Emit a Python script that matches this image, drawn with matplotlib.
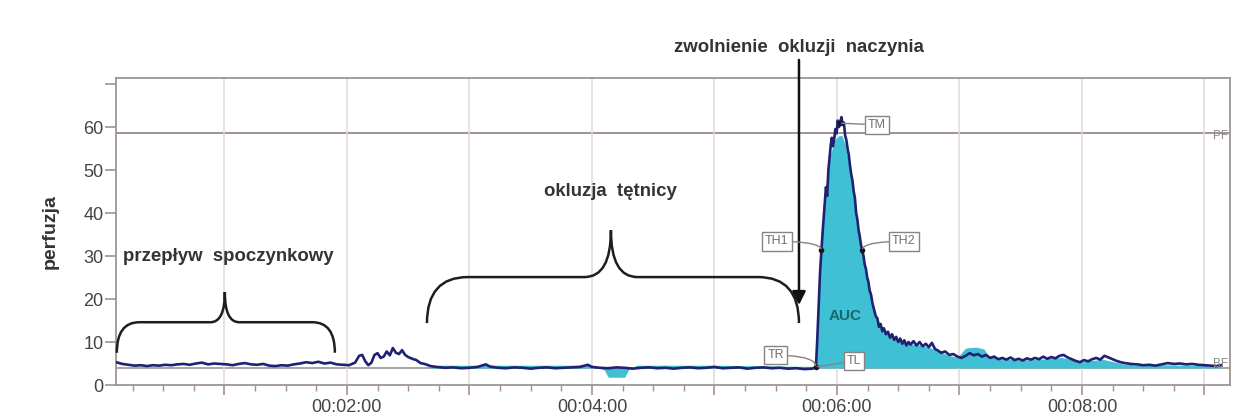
import matplotlib
matplotlib.use('Agg')
import matplotlib.pyplot as plt
from matplotlib.path import Path
from matplotlib.patches import PathPatch
from matplotlib.ticker import MultipleLocator, FuncFormatter

plt.rcParams['font.family'] = ['Liberation Sans', 'DejaVu Sans']

# ---------------- data (time in seconds, perfusion units) ----------------
t_raw = [7, 10, 13, 16, 19, 22, 25, 28, 31, 34, 37, 40, 43, 46, 49, 52, 55, 58, 61, 64,
         67, 70, 73, 76, 79, 82, 85, 88, 91, 94, 97, 100, 103, 106, 109, 112, 115, 118, 121,
         124, 126, 127.5, 129, 130.5, 132, 133.5, 135, 136.5, 138, 139.5, 141, 142.5, 144,
         145.5, 147, 148.5, 150, 152, 154, 156, 158, 161, 164,
         168, 172, 176, 180, 184, 188, 190, 194, 198, 202, 206, 210, 214, 218, 222, 226,
         230, 234, 238, 240, 244, 248, 252, 256, 260, 264, 268, 272, 276, 280, 284, 288,
         292, 296, 300, 304, 308, 312, 316, 320, 324, 328, 332, 336, 340, 344, 348, 349.7,
         350.3, 351, 351.7, 352.4, 353.2, 354, 354.6, 355.2, 355.8, 356.4, 357, 357.5, 358,
         358.6, 359.2, 359.8, 360.4, 361, 361.5, 362.2, 362.8, 363.4, 364, 364.6, 365.2,
         365.8, 366.4, 367, 367.6, 368.2, 368.8, 369.4, 370, 370.6, 371.2, 371.8, 372.4,
         373, 373.6, 374.2, 374.8, 375.4, 376, 376.7, 377.4, 378.2, 379, 379.8, 380.6,
         381.4, 382.2, 383, 384, 385, 386, 387, 388, 389, 390, 391, 392, 393, 394, 395,
         396, 397.5, 399, 400.5, 402, 403.5, 405, 406.5, 408, 409.5, 411, 413, 415, 417,
         419, 421, 423, 425, 427, 429, 431, 433, 435, 437, 439, 441, 443, 445, 447, 449,
         451, 453, 455, 457, 459, 461, 463, 465, 467, 469, 471, 473, 475, 477, 479, 481,
         483, 485, 487, 489, 491, 493, 495, 497, 499, 501, 504, 507, 510, 513, 516, 519,
         522, 525, 528, 531, 534, 537, 540, 543, 546, 548]
v_raw = [5.3, 4.9, 4.7, 4.5, 4.6, 4.4, 4.6, 4.5, 4.7, 4.6, 4.8, 4.9, 4.7, 5.0, 5.2, 4.8,
         5.0, 4.9, 4.8, 4.6, 4.9, 5.1, 4.8, 4.7, 4.9, 4.5, 4.4, 4.6, 4.5, 4.8, 5.0, 5.3,
         5.1, 5.4, 5.0, 5.2, 4.8, 4.7, 4.6,
         5.2, 6.8, 7.0, 5.5, 4.6, 5.2, 7.0, 7.4, 6.3, 6.6, 7.8, 6.9, 8.6, 7.5, 7.2, 8.1,
         7.0, 6.5, 6.1, 5.8, 5.1, 4.9, 4.4, 4.2,
         4.0, 4.1, 3.9, 4.0, 4.2, 4.8, 4.3, 4.0, 3.9, 4.1, 4.0, 3.8, 4.0, 4.1, 3.9, 4.0,
         4.1, 4.2, 4.7, 4.2, 4.0, 3.9, 4.1, 4.0, 3.8, 4.0, 4.1, 3.9, 4.0, 3.8, 4.0, 4.1,
         3.9, 4.0, 4.2, 3.9, 4.0, 4.1, 3.8, 4.0, 4.1, 3.9, 4.0, 3.8, 3.9, 3.7, 3.8, 4.2,
         10, 18, 26, 31.4, 37, 42, 46, 44, 50, 53, 56, 57.5, 55.5,
         57, 59.5, 58.5, 61.5, 60, 60.9, 62.3, 60.5, 61, 58, 57, 55,
         53.5, 51, 49, 47.5, 45, 43.5, 40, 38.5, 36, 34.5, 32.5, 31.4,
         30, 28, 27, 25, 24, 22, 21, 19, 17.5, 16, 15.5, 13.5,
         14.2, 12.5, 13.2, 11.8, 12.4, 11.0, 11.8, 10.5, 11.2, 10.0, 10.8, 9.6, 10.4, 9.2, 10.0,
         9.4, 10.2, 9.2, 10.0, 9.0, 9.6, 8.8, 9.8, 8.4, 8.0, 7.5, 7.8, 7.0, 7.2,
         6.6, 6.3, 6.8, 7.4, 6.9, 7.2, 6.6, 7.0, 6.3, 6.6, 6.0, 6.3, 5.9, 6.4, 5.8, 6.1,
         5.7, 6.2, 5.9, 6.3, 6.0, 6.6, 6.1, 6.5, 6.2, 6.8, 7.0, 6.4, 6.0, 5.6, 5.3, 5.8,
         5.5, 6.0, 6.3, 5.9, 6.8, 6.4, 6.0, 5.6, 5.3, 5.1, 4.9, 4.8, 4.6, 4.7, 4.5, 4.8,
         5.1, 4.9, 5.0, 4.8, 4.9, 4.7, 4.6, 4.5, 4.4, 4.6]

# smoothed signal used for the AUC fill
t_fill = [160, 165, 200, 240, 246, 248, 256, 258, 262, 300, 349.7, 350.5, 351.5, 353, 355,
          357, 359, 361, 362.5, 364, 366, 368, 370, 372, 374, 376, 378, 380, 384, 390,
          396, 402, 408, 414, 419, 421, 423, 428, 432, 434, 440, 450, 460, 470, 480, 490,
          500, 510, 520, 530, 548]
v_fill = [4.0, 4.6, 4.6, 4.6, 3.5, 1.8, 1.8, 3.6, 4.6, 4.6, 4.3, 15, 30, 40, 48,
          54, 57, 58, 58, 56, 51, 44, 37, 31, 26, 21.5, 17.5, 14.5, 12, 10.5,
          9.6, 9.2, 8.3, 7.0, 6.4, 7.5, 8.6, 8.8, 8.4, 6.8, 6.1, 5.8, 6.0, 6.4, 5.4, 6.0,
          4.9, 4.5, 4.7, 4.6, 4.4]

PF = 58.6   # peak flow level
BF = 3.95   # baseline flow level

# characteristic points
pt_labels = ['TR', 'TH1', 'TH2', 'TM', 'TL']
pt_t = [349.7, 352.4, 372.4, 361.5, 349.7]
pt_v = [4.2, 31.4, 31.4, 60.9, 4.2]

# ---------------- styling ----------------
navy = '#1f2273'
cyan = '#3fc0d4'
frame = '#9f9490'
grid_c = '#e0d9d6'
txt = '#333333'

fig = plt.figure(figsize=(12.46, 4.16), dpi=100)
fig.patch.set_facecolor('white')
ax = fig.add_axes([116 / 1246, 31 / 416, 1114 / 1246, 307 / 416])
ax.set_xlim(6.9, 552.5)
ax.set_ylim(0, 71.4)

for s in ax.spines.values():
    s.set_color(frame)
    s.set_linewidth(1.3)

ax.xaxis.set_major_locator(MultipleLocator(60))
ax.xaxis.set_minor_locator(MultipleLocator(15))
ax.xaxis.set_major_formatter(FuncFormatter(
    lambda x, p: f"00:{int(round(x)) // 60:02d}:00" if int(round(x)) % 120 == 0 else ''))
ax.yaxis.set_major_locator(MultipleLocator(10))
ax.yaxis.set_major_formatter(FuncFormatter(lambda y, p: '' if y > 65 else f"{int(y)}"))
ax.tick_params(axis='both', which='major', color=frame, width=1.2, labelcolor='#444444',
               labelsize=13)
ax.tick_params(axis='x', which='major', length=7, pad=3)
ax.tick_params(axis='x', which='minor', length=4, color=frame, width=1)
ax.tick_params(axis='y', which='major', length=8, pad=1)
ax.grid(axis='x', which='major', color=grid_c, lw=1.1, zorder=0)

ax.axhline(PF, color=frame, lw=1.4, zorder=1)
ax.axhline(BF, color=frame, lw=1.2, zorder=1)

ax.fill_between(t_fill, BF, v_fill, color=cyan, lw=0, zorder=2)
ax.plot(t_raw, v_raw, color=navy, lw=1.9, zorder=3, solid_joinstyle='round')

ax.plot(pt_t[:4], pt_v[:4], 'o', color='#151515', ms=3, zorder=5)

box = dict(boxstyle='square,pad=0.25', fc='white', ec='#8c827e', lw=1)
lead = '#8c827e'
lab_pos = {'TR': (330, 6.9), 'TH1': (330.6, 33.4), 'TH2': (392.8, 33.4),
           'TM': (379.6, 60.5), 'TL': (368.3, 5.6)}
conn = {'TR': 'angle3,angleA=0,angleB=90', 'TH1': 'angle3,angleA=0,angleB=90',
        'TH2': 'angle3,angleA=0,angleB=90', 'TM': 'arc3,rad=0', 'TL': 'arc3,rad=0'}
for lab, tt, vv in zip(pt_labels, pt_t, pt_v):
    ax.annotate(lab, xy=(tt, vv), xytext=lab_pos[lab], ha='center', va='center',
                fontsize=9, color='#707070', bbox=box, zorder=6,
                arrowprops=dict(arrowstyle='-', color=lead, lw=1,
                                connectionstyle=conn[lab], shrinkA=0, shrinkB=1))

ax.text(363.9, 16, 'AUC', ha='center', va='center', fontsize=11, fontweight='bold',
        color='#17696c', zorder=6)
ax.text(544, PF - 0.8, 'PF', ha='left', va='center', fontsize=8.5, color='#8a8a8a')
ax.text(544, BF + 0.9, 'BF', ha='left', va='center', fontsize=8.5, color='#8a8a8a')


def brace(x0, x1, xc, yb, yh, yc, rx, cx):
    verts = [(x0, yb), (x0, yh), (x0 + rx, yh), (xc - cx, yh), (xc, yh), (xc, yc),
             (xc, yh), (xc + cx, yh), (x1 - rx, yh), (x1, yh), (x1, yb)]
    codes = [Path.MOVETO, Path.CURVE3, Path.CURVE3, Path.LINETO, Path.CURVE3, Path.CURVE3,
             Path.CURVE3, Path.CURVE3, Path.LINETO, Path.CURVE3, Path.CURVE3]
    ax.add_patch(PathPatch(Path(verts, codes), fc='none', ec='#1e1e1e', lw=1.8,
                           zorder=4, clip_on=False))


brace(7.3, 114.1, 60.2, 7.5, 14.6, 21.6, 11, 7)
brace(159.2, 341.4, 249.3, 14.4, 25.1, 36.0, 20, 13)

ax.annotate('', xy=(341.4, 18.6), xytext=(341.4, 75.6), annotation_clip=False,
            arrowprops=dict(arrowstyle='-|>', color='#111111', lw=1.8,
                            mutation_scale=20, shrinkA=0, shrinkB=0), zorder=5)

ax.text(341.4, 78.4, 'zwolnienie  okluzji  naczynia', ha='center', va='center',
        fontsize=13.4, fontweight='bold', color=txt, clip_on=False)
ax.text(249.3, 44.9, 'okluzja  tętnicy', ha='center', va='center',
        fontsize=13.4, fontweight='bold', color=txt)
ax.text(10.3, 29.8, 'przepływ  spoczynkowy', ha='left', va='center',
        fontsize=13.4, fontweight='bold', color=txt)

ax.text((50 - 116) / 1114, 0.5, 'perfuzja', transform=ax.transAxes, rotation=90,
        ha='center', va='center', fontsize=14, fontweight='bold', color=txt)

fig.savefig('out.png', dpi=100, facecolor='white')
